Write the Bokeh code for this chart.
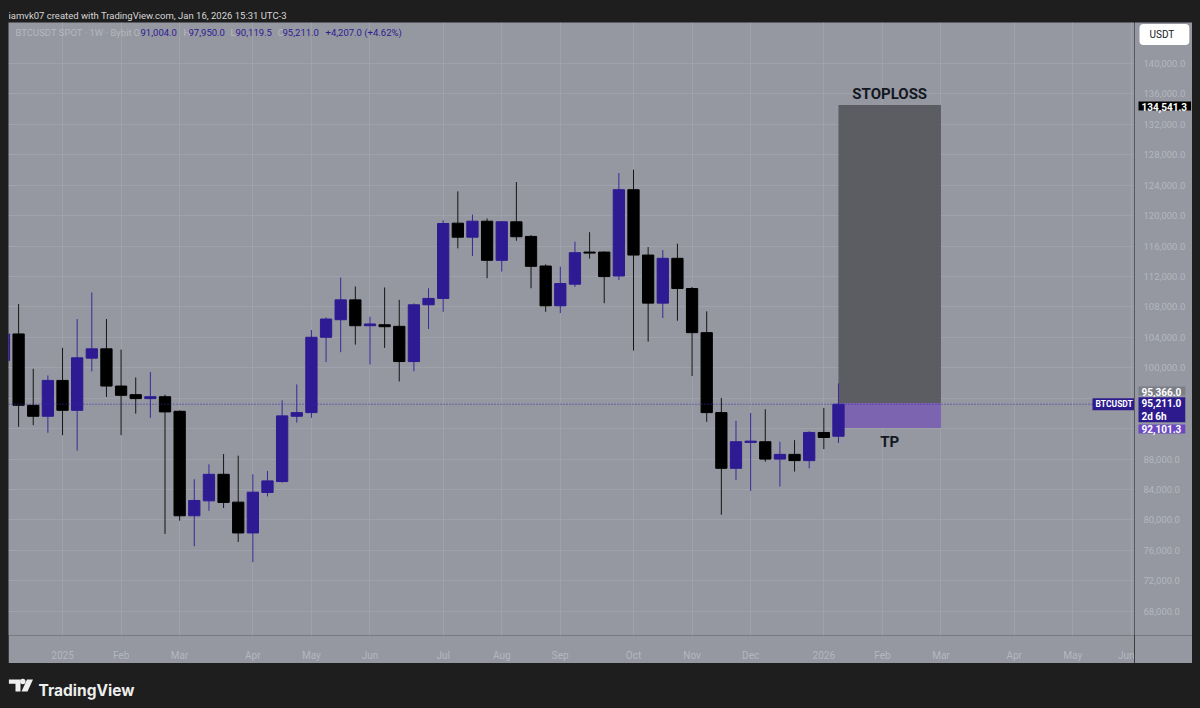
import pandas as pd
from bokeh.plotting import figure
from bokeh.models import Range1d, FixedTicker, Label, Span, ColumnDataSource
from bokeh.layouts import column, row
from bokeh.embed import file_html
from bokeh.resources import INLINE
from bokeh.core.properties import value

# ---------------- data (BTCUSDT weekly, values in USDT) ----------------
weeks = ["2024-12-09", "2024-12-16", "2024-12-23", "2024-12-30",
         "2025-01-06", "2025-01-13", "2025-01-20", "2025-01-27",
         "2025-02-03", "2025-02-10", "2025-02-17", "2025-02-24",
         "2025-03-03", "2025-03-10", "2025-03-17", "2025-03-24",
         "2025-03-31", "2025-04-07", "2025-04-14", "2025-04-21",
         "2025-04-28", "2025-05-05", "2025-05-12", "2025-05-19",
         "2025-05-26", "2025-06-02", "2025-06-09", "2025-06-16",
         "2025-06-23", "2025-06-30", "2025-07-07", "2025-07-14",
         "2025-07-21", "2025-07-28", "2025-08-04", "2025-08-11",
         "2025-08-18", "2025-08-25", "2025-09-01", "2025-09-08",
         "2025-09-15", "2025-09-22", "2025-09-29", "2025-10-06",
         "2025-10-13", "2025-10-20", "2025-10-27", "2025-11-03",
         "2025-11-10", "2025-11-17", "2025-11-24", "2025-12-01",
         "2025-12-08", "2025-12-15", "2025-12-22", "2025-12-29",
         "2026-01-05", "2026-01-12"]
opens = [100950, 104450, 95070, 93630,
         98340, 94410, 101270, 102490,
         97600, 96470, 95950, 96200,
         94280, 80550, 82510, 86000,
         82340, 78290, 83610, 85050,
         93630, 94110, 104010, 106320,
         108930, 105530, 105660, 105450,
         100820, 108280, 109120, 119010,
         117170, 119270, 114130, 119190,
         117270, 113380, 108150, 110990,
         115210, 115210, 112070, 123410,
         114820, 108500, 114390, 110420,
         104620, 94110, 86790, 90190,
         90280, 88000, 88620, 87800,
         91500, 91004.0]
highs = [106500, 108370, 99870, 98990,
         102620, 106410, 109900, 106410,
         102390, 98730, 99440, 96470,
         94400, 85350, 87310, 88660,
         88450, 86000, 86440, 95720,
         97820, 104970, 106630, 111860,
         110690, 106710, 110560, 108930,
         108460, 110460, 119400, 123190,
         120140, 119620, 119300, 124420,
         117440, 113600, 113300, 116570,
         117830, 115300, 125600, 126030,
         115870, 115470, 116310, 110630,
         107420, 96040, 93030, 94070,
         94550, 90280, 90490, 91670,
         94730, 97950.0]
lows = [99500, 92240, 92450, 91460,
        91140, 89100, 99520, 96170,
        91140, 93980, 93420, 78160,
        79900, 76550, 81200, 81560,
        77110, 74450, 83090, 84900,
        92800, 93420, 100750, 102050,
        103050, 100430, 102620, 98210,
        99560, 105100, 107360, 115700,
        114690, 111770, 112650, 116700,
        110460, 107360, 107190, 110630,
        114350, 108500, 111550, 102260,
        103440, 106540, 106190, 98910,
        92900, 80680, 85260, 83820,
        87660, 84390, 86360, 86790,
        89310, 90119.5]
closes = [104450, 95070, 93630, 98340,
          94410, 101310, 102490, 97600,
          96380, 95950, 96200, 94200,
          80550, 82560, 86000, 82300,
          78290, 83650, 85130, 93680,
          94110, 104010, 106410, 108930,
          105530, 105760, 105400, 100820,
          108280, 109120, 118970, 117170,
          119270, 114130, 119190, 117230,
          113340, 108150, 111080, 115130,
          115080, 111990, 123410, 114820,
          108500, 114390, 110420, 104620,
          94110, 86790, 90280, 90360,
          88000, 88620, 87800, 91500,
          90840, 95211.0]

stop_price = 134541.3
entry_price = 95366.0
target_price = 92101.3
last_price = 95211.0
position_start = "2026-01-12"
position_end = "2026-03-02"

month_labels = ["2025", "Feb", "Mar", "Apr", "May", "Jun", "Jul", "Aug", "Sep",
                "Oct", "Nov", "Dec", "2026", "Feb", "Mar", "Apr", "May", "Jun"]
price_ticks = [68000, 72000, 76000, 80000, 84000, 88000, 92000, 96000, 100000,
               104000, 108000, 112000, 116000, 120000, 124000, 128000, 132000,
               136000, 140000]
price_labels = ["{:,.1f}".format(t) for t in price_ticks]

# ---------------- style ----------------
BG = "#9598a1"
DARK = "#1e1e1e"
GRID = "#9fa2aa"
AXIS_TXT = "#b4b7bf"
UP = "#2e1a92"
UP_WICK = "#3a289c"
DOWN = "#000000"
DOWN_WICK = "#151515"
FONT = "Roboto"

base = pd.Timestamp("2025-01-06")


def widx(d):
    return (pd.Timestamp(d) - base).days / 7.0


xs = [widx(d) for d in weeks]
up = [c >= o for o, c in zip(opens, closes)]
src = ColumnDataSource(dict(
    x=xs, open=opens, high=highs, low=lows, close=closes,
    top=[max(o, c) for o, c in zip(opens, closes)],
    bottom=[min(o, c) for o, c in zip(opens, closes)],
    color=[UP if u else DOWN for u in up],
    wick=[UP_WICK if u else DOWN_WICK for u in up],
))

# month ticks (first weekly bar of each month)
all_weeks = pd.date_range("2025-01-06", "2026-06-01", freq="W-MON")
tick_pos = []
prev = None
for d in all_weeks:
    key = (d.year, d.month)
    if key != prev:
        tick_pos.append(int(round(widx(d))))
        prev = key
overrides = {t: lab for t, lab in zip(tick_pos, month_labels)}

# ---------------- main chart ----------------
p = figure(width=1126, height=641,
           x_range=Range1d(-3.69, 73.22), y_range=Range1d(64810, 145390),
           x_axis_location="below", y_axis_location=None,
           output_backend="svg", toolbar_location=None,
           min_border_left=0, min_border_right=0, min_border_top=0, min_border_bottom=25,
           background_fill_color=BG, border_fill_color=BG, outline_line_color=None)

ax = p.xaxis[0]
ax.axis_line_color = None
ax.major_tick_line_color = None
ax.minor_tick_line_color = None
ax.major_label_text_color = AXIS_TXT
ax.major_label_text_font = FONT
ax.major_label_text_font_size = "10px"
ax.ticker = FixedTicker(ticks=tick_pos)
ax.major_label_overrides = overrides
ax.major_label_standoff = 8
p.ygrid[0].ticker = FixedTicker(ticks=price_ticks)
p.grid.grid_line_color = GRID
p.grid.grid_line_width = 1

# position tool
pl, pr = widx(position_start), widx(position_end)
p.quad(left=[pl], right=[pr], bottom=[entry_price], top=[stop_price],
       fill_color="#5c5d62", line_color=None)
p.quad(left=[pl], right=[pr], bottom=[target_price], top=[entry_price],
       fill_color="#7d64b0", line_color=None)

# last price dotted line
p.add_layout(Span(location=last_price, dimension="width", line_color="#3a28a8",
                  line_dash="1 2", line_width=1))

# candles
p.segment(x0="x", y0="low", x1="x", y1="high", line_color="wick", line_width=1, source=src)
p.vbar(x="x", width=0.77, top="top", bottom="bottom", fill_color="color",
       line_color="color", line_width=1, source=src)

pm = (pl + pr) / 2
p.add_layout(Label(x=pm, y=stop_price, y_offset=11, text="STOPLOSS", text_align="center",
                   text_baseline="alphabetic", text_font=FONT, text_font_size="15px",
                   text_font_style="bold", text_color="#131722"))
p.add_layout(Label(x=pm, y=target_price, y_offset=-14, text="TP", text_align="center",
                   text_baseline="alphabetic", text_font=FONT, text_font_size="15px",
                   text_font_style="bold", text_color="#131722"))

# legend line at top
top = p.y_range.end
chg = closes[-1] - opens[-1]
legend_parts = [
    (7, "BTCUSDT SPOT · 1W · Bybit", AXIS_TXT),
    (125, "O", AXIS_TXT), (132, "{:,.1f}".format(opens[-1]), UP),
    (175, "H", AXIS_TXT), (180, "{:,.1f}".format(highs[-1]), UP),
    (222, "L", AXIS_TXT), (227, "{:,.1f}".format(lows[-1]), UP),
    (269, "C", AXIS_TXT), (274, "{:,.1f}".format(closes[-1]), UP),
    (317, "{:+,.1f} ({:+.2f}%)".format(chg, chg / opens[-1] * 100), UP),
]
for lx, txt, col in legend_parts:
    p.add_layout(Label(x=lx, x_units="screen", y=top, y_offset=-10, text=txt,
                       text_align="left", text_baseline="middle", text_font=FONT,
                       text_font_size="9.5px", text_color=col))

p.add_layout(Label(x=1084, x_units="screen", y=last_price, text="BTCUSDT",
                   text_align="left", text_baseline="middle", text_font=FONT,
                   text_font_size="8.5px", text_font_style="bold", text_color="#ffffff",
                   background_fill_color="#2d1b8d",
                   padding=dict(left=3, right=4, top=1, bottom=1)))

# ---------------- price scale ----------------
ps = figure(width=58, height=641, x_range=Range1d(0, 58), y_range=p.y_range,
            x_axis_location=None, y_axis_location=None,
            output_backend="svg", toolbar_location=None,
            min_border_left=0, min_border_right=0, min_border_top=0, min_border_bottom=25,
            background_fill_color=BG, border_fill_color=BG, outline_line_color=None)
ps.grid.visible = False
for t, lab in zip(price_ticks, price_labels):
    ps.add_layout(Label(x=9, x_units="screen", y=t, text=lab,
                        text_align="left", text_baseline="middle", text_font=FONT,
                        text_font_size="9.5px", text_color=AXIS_TXT))

ps.add_layout(Label(x=5, x_units="screen", y=top, y_offset=-12, text="USDT",
                    text_align="left", text_baseline="middle", text_font=FONT,
                    text_font_size="10px", text_color="#131722",
                    background_fill_color="#ffffff",
                    padding=dict(left=10, right=15, top=5, bottom=5), border_radius=4))


def price_box(y, txt, bg, yoff=0):
    ps.add_layout(Label(x=4, x_units="screen", y=y, y_offset=yoff, text=txt,
                        text_align="left", text_baseline="middle", text_font=FONT,
                        text_font_size="10px", text_font_style="bold", text_color="#ffffff",
                        background_fill_color=bg,
                        padding=dict(left=3, right=4, top=1, bottom=0)))


price_box(stop_price, "{:,.1f}".format(stop_price), "#000000", yoff=-1)
price_box(entry_price, "{:,.1f}".format(entry_price), "#7b7e87", yoff=12)
price_box(last_price, "{:,.1f}\n2d 6h".format(last_price), "#2d1b8d", yoff=-5.5)
price_box(target_price, "{:,.1f}".format(target_price), "#6b48c2", yoff=-1)

# ---------------- header strip ----------------
hdr = figure(width=1184, height=14, x_range=Range1d(0, 1184), y_range=Range1d(14, 0),
             x_axis_location=None, y_axis_location=None,
             output_backend="svg", toolbar_location=None, min_border=0,
             background_fill_color=DARK, border_fill_color=DARK, outline_line_color=None)
hdr.grid.visible = False
hdr.text(x=[0], y=[7], text=["iamvk07 created with TradingView.com, Jan 16, 2026 15:31 UTC-3"],
         text_font=value(FONT), text_font_size="9.5px", text_color="#d6d6d6",
         text_baseline="alphabetic", text_align="left")

# ---------------- footer strip ----------------
ftr = figure(width=1184, height=37, x_range=Range1d(0, 1184), y_range=Range1d(37, 0),
             x_axis_location=None, y_axis_location=None,
             output_backend="svg", toolbar_location=None, min_border=0,
             background_fill_color=DARK, border_fill_color=DARK, outline_line_color=None)
ftr.grid.visible = False
ftr.patch(x=[0.3, 12, 12, 7, 7, 0.3], y=[16, 16, 28, 28, 20.3, 20.3], fill_color="#eeeeee", line_color=None)
ftr.scatter(x=[14.3], y=[18], size=5.5, fill_color="#eeeeee", line_color=None)
ftr.patch(x=[18.5, 24.5, 19, 13], y=[16, 16, 28, 28], fill_color="#eeeeee", line_color=None)
ftr.text(x=[30], y=[27], text=["TradingView"], text_font=value("Inter"), text_font_size="15.5px",
         text_font_style="bold", text_color="#eeeeee", text_baseline="alphabetic", text_align="left")

layout = column(hdr, row(p, ps, spacing=0), ftr, spacing=0)

html = file_html(layout, INLINE)
html = html.replace("</head>",
                    "<style>html, body {background-color: #1e1e1e;} "
                    "body {padding: 8px !important; box-sizing: border-box;}</style></head>", 1)
open("out.html", "w").write(html)
